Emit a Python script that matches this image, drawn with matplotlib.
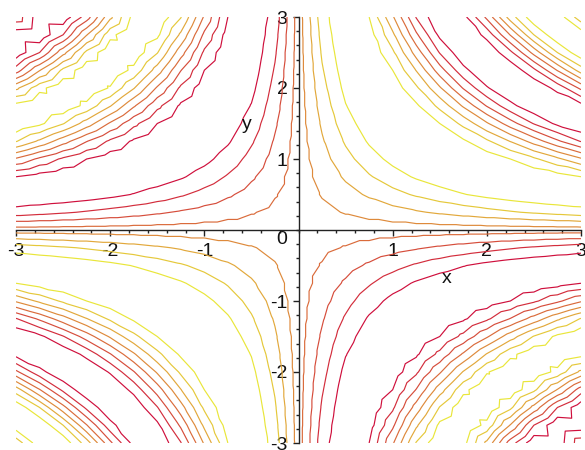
import numpy as np
import matplotlib
matplotlib.use("Agg")
import matplotlib.pyplot as plt
import matplotlib.tri as mtri
from matplotlib.colors import LinearSegmentedColormap
from matplotlib.ticker import MultipleLocator, FixedLocator

plt.rcParams['font.family'] = ['Liberation Sans Narrow', 'Liberation Sans', 'DejaVu Sans']
plt.rcParams['axes.unicode_minus'] = False

# Surface z = sin(x*y) sampled on a coarse 25 x 25 grid
x_range = (-3.0, 3.0)
y_range = (-3.0, 3.0)
grid_n = 25
levels = [-0.778, -0.556, -0.333, -0.111, 0.111, 0.333, 0.556, 0.778]
tick_values = [-3, -2, -1, 1, 2, 3]
tick_labels = ["-3", "-2", "-1", "1", "2", "3"]

xs = np.linspace(*x_range, grid_n)
ys = np.linspace(*y_range, grid_n)
X, Y = np.meshgrid(xs, ys)
Z = np.sin(X * Y)

# Split every grid cell into two triangles along the anti-diagonal
idx = np.arange(grid_n * grid_n).reshape(grid_n, grid_n)
a = idx[:-1, :-1].ravel()   # lower left
b = idx[:-1, 1:].ravel()    # lower right
c = idx[1:, 1:].ravel()     # upper right
d = idx[1:, :-1].ravel()    # upper left
triangles = np.concatenate([np.stack([a, b, d], axis=1),
                            np.stack([b, c, d], axis=1)])
tri = mtri.Triangulation(X.ravel(), Y.ravel(), triangles)

fig = plt.figure(figsize=(5.85, 4.5), dpi=100)
ax = fig.add_axes([16 / 585, 7 / 450, 565 / 585, 426 / 450])

cmap = LinearSegmentedColormap.from_list("red_yellow", ["#cf0f3c", "#e9e63a"])
ax.tricontour(tri, Z.ravel(), levels=levels, cmap=cmap, linewidths=0.85)

ax.set_xlim(*x_range)
ax.set_ylim(*y_range)

# Axes crossing at the origin
for side in ("top", "right"):
    ax.spines[side].set_visible(False)
ax.spines["left"].set_position("zero")
ax.spines["bottom"].set_position("zero")
for side in ("left", "bottom"):
    ax.spines[side].set_color("#222222")
    ax.spines[side].set_linewidth(1.0)
ax.patch.set_alpha(0)

ax.xaxis.set_major_locator(FixedLocator(tick_values))
ax.yaxis.set_major_locator(FixedLocator(tick_values))
ax.set_xticklabels(tick_labels)
ax.set_yticklabels(tick_labels)
ax.xaxis.set_minor_locator(MultipleLocator(0.2))
ax.yaxis.set_minor_locator(MultipleLocator(0.2))
ax.tick_params(which="major", length=4, width=1, color="#222222",
               labelsize=14, labelcolor="#111111")
ax.tick_params(which="minor", length=2.5, width=1, color="#222222")
ax.tick_params(axis="x", which="both", direction="out", pad=5)
ax.tick_params(axis="y", which="both", direction="out", pad=4)

ax.annotate("0", xy=(0, 0), xytext=(-11, -1), textcoords="offset pixels",
            ha="right", va="top", fontsize=14, color="#111111")
ax.text(1.57, -0.68, "x", ha="center", va="center", fontsize=14, color="#111111")
ax.text(-0.55, 1.48, "y", ha="center", va="center", fontsize=14, color="#111111")

fig.savefig("out.png", dpi=100, facecolor="white")
